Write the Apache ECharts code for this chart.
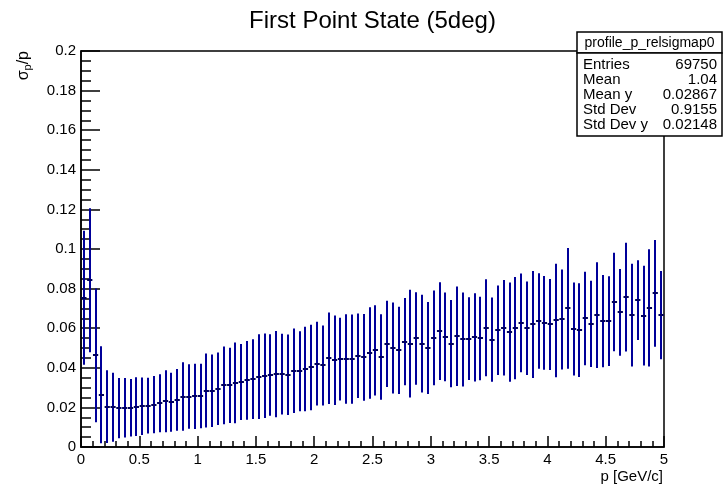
<!DOCTYPE html>
<html>
<head>
<meta charset="utf-8">
<script src="https://cdn.jsdelivr.net/npm/echarts@6/dist/echarts.min.js"></script>
<style>
  html, body { margin: 0; padding: 0; background: #fff; }
  #main { width: 723px; height: 486px; }
</style>
</head>
<body>
<div id="main"></div>
<script>
// profile: 100 bins from 0 to 5 GeV/c
var binLow = 0;
var binWidth = 0.05;
var meanVals = [
  0.0754, 0.0842, 0.0463, 0.0264, 0.0204, 0.0201, 0.0196, 0.0198, 0.0198, 0.0204,
  0.0206, 0.0209, 0.0214, 0.0221, 0.0231, 0.0226, 0.0238, 0.0255, 0.0255, 0.0256,
  0.0258, 0.0285, 0.0284, 0.0294, 0.0311, 0.0311, 0.0324, 0.0328, 0.0336, 0.0343,
  0.0356, 0.0360, 0.0364, 0.0368, 0.0368, 0.0365, 0.0385, 0.0382, 0.0394, 0.0402,
  0.0421, 0.0412, 0.0448, 0.0438, 0.0444, 0.0444, 0.0444, 0.0461, 0.0453, 0.0475,
  0.0488, 0.0455, 0.0521, 0.0500, 0.0488, 0.0532, 0.0522, 0.0548, 0.0522, 0.0500,
  0.0551, 0.0585, 0.0556, 0.0522, 0.0559, 0.0543, 0.0547, 0.0554, 0.0548, 0.0602,
  0.0542, 0.0590, 0.0602, 0.0580, 0.0600, 0.0627, 0.0600, 0.0619, 0.0636, 0.0627,
  0.0619, 0.0639, 0.0644, 0.0700, 0.0596, 0.0590, 0.0649, 0.0622, 0.0666, 0.0636,
  0.0636, 0.0732, 0.0680, 0.0757, 0.0666, 0.0742, 0.0664, 0.0703, 0.0776, 0.0666
];
var errVals = [
  0.0338, 0.0364, 0.0338, 0.0245, 0.0184, 0.0174, 0.0152, 0.0150, 0.0145, 0.0148,
  0.0145, 0.0141, 0.0144, 0.0146, 0.0157, 0.0149, 0.0156, 0.0173, 0.0163, 0.0165,
  0.0163, 0.0187, 0.0183, 0.0183, 0.0196, 0.0190, 0.0204, 0.0192, 0.0199, 0.0201,
  0.0214, 0.0213, 0.0206, 0.0218, 0.0204, 0.0203, 0.0213, 0.0202, 0.0213, 0.0216,
  0.0212, 0.0202, 0.0231, 0.0226, 0.0209, 0.0226, 0.0225, 0.0213, 0.0219, 0.0231,
  0.0228, 0.0216, 0.0218, 0.0230, 0.0220, 0.0220, 0.0272, 0.0233, 0.0247, 0.0232,
  0.0239, 0.0247, 0.0224, 0.0220, 0.0251, 0.0237, 0.0209, 0.0223, 0.0211, 0.0245,
  0.0213, 0.0226, 0.0241, 0.0251, 0.0258, 0.0249, 0.0236, 0.0270, 0.0241, 0.0237,
  0.0230, 0.0287, 0.0252, 0.0305, 0.0235, 0.0237, 0.0236, 0.0218, 0.0267, 0.0233,
  0.0227, 0.0249, 0.0219, 0.0275, 0.0260, 0.0201, 0.0252, 0.0296, 0.0270, 0.0223
];
var statLabels = ['Entries', 'Mean', 'Mean y', 'Std Dev', 'Std Dev y'];
var statValues = ['69750', '1.04', '0.02867', '0.9155', '0.02148'];

var font = 'Liberation Sans, Arial, Helvetica, sans-serif';
var barColor = '#000099';
var markColor = '#00005c';

var points = meanVals.map(function (m, i) {
  return [binLow + (i + 0.5) * binWidth, m, errVals[i]];
});

var chart = echarts.init(document.getElementById('main'));

var statGraphics = [
  {type: 'rect', shape: {x: 577, y: 32, width: 145, height: 21},
    style: {fill: '#fff', stroke: '#000', lineWidth: 1.5}, z: 100},
  {type: 'rect', shape: {x: 577, y: 53, width: 145, height: 83},
    style: {fill: '#fff', stroke: '#000', lineWidth: 1.5}, z: 100},
  {type: 'text', x: 649.5, y: 43, z: 101,
    style: {text: 'profile_p_relsigmap0', font: '14px ' + font, fill: '#000',
      align: 'center', verticalAlign: 'middle'}}
];
statLabels.forEach(function (lab, i) {
  statGraphics.push({type: 'text', x: 583, y: 65 + i * 15, z: 101,
    style: {text: lab, font: '15px ' + font, fill: '#000', align: 'left', verticalAlign: 'middle'}});
  statGraphics.push({type: 'text', x: 717, y: 65 + i * 15, z: 101,
    style: {text: statValues[i], font: '15px ' + font, fill: '#000', align: 'right', verticalAlign: 'middle'}});
});

var option = {
  backgroundColor: '#fff',
  animation: false,
  grid: {
    left: 81, right: 59, top: 51, bottom: 39,
    show: true, borderColor: '#000', borderWidth: 1.5,
    outerBoundsMode: 'none'
  },
  xAxis: {
    type: 'value',
    min: 0, max: 5, interval: 0.5,
    axisLine: {show: true, onZero: false, lineStyle: {color: '#000', width: 1.5}},
    axisTick: {show: true, inside: true, length: 11, lineStyle: {color: '#000', width: 1.5}},
    minorTick: {show: true, splitNumber: 5, length: 6, lineStyle: {color: '#000', width: 1.5}},
    splitLine: {show: false},
    axisLabel: {color: '#000', fontSize: 15, fontFamily: font, margin: 5}
  },
  yAxis: {
    type: 'value',
    min: 0, max: 0.2, interval: 0.02,
    axisLine: {show: true, onZero: false, lineStyle: {color: '#000', width: 1.5}},
    axisTick: {show: true, inside: true, length: 19, lineStyle: {color: '#000', width: 1.5}},
    minorTick: {show: true, splitNumber: 4, length: 10, lineStyle: {color: '#000', width: 1.5}},
    splitLine: {show: false},
    axisLabel: {color: '#000', fontSize: 15, fontFamily: font, margin: 5}
  },
  series: [{
    type: 'custom',
    data: points,
    clip: true,
    renderItem: function (params, api) {
      var x = api.value(0);
      var m = api.value(1);
      var e = api.value(2);
      var top = api.coord([x, m + e]);
      var bot = api.coord([x, m - e]);
      var left = api.coord([x - binWidth / 2, m]);
      var right = api.coord([x + binWidth / 2, m]);
      var cx = Math.round(top[0]);
      var my = Math.round(left[1]);
      return {
        type: 'group',
        children: [
          {type: 'line', shape: {x1: cx, y1: top[1], x2: cx, y2: bot[1]},
            style: {stroke: barColor, lineWidth: 2}},
          {type: 'line', shape: {x1: left[0] + 0.3, y1: my, x2: right[0] - 0.3, y2: my},
            style: {stroke: markColor, lineWidth: 2}}
        ]
      };
    }
  }],
  graphic: [
    {type: 'text', x: 372.5, y: 21, z: 100,
      style: {text: 'First Point State (5deg)', font: '24px ' + font, fill: '#000',
        align: 'center', verticalAlign: 'middle'}},
    {type: 'text', x: 663, y: 477, z: 100,
      style: {text: 'p [GeV/c]', font: '15px ' + font, fill: '#000',
        align: 'right', verticalAlign: 'middle'}},
    {type: 'text', x: 24, y: 51, rotation: Math.PI / 2, z: 100,
      style: {
        text: '{a|σ}{b|p}{a|/p}',
        align: 'right', verticalAlign: 'middle',
        rich: {
          a: {fontSize: 16, fontFamily: font, color: '#000', lineHeight: 19},
          b: {fontSize: 11, fontFamily: font, color: '#000', lineHeight: 11, verticalAlign: 'bottom'}
        }
      }}
  ].concat(statGraphics)
};

chart.setOption(option);
</script>
</body>
</html>
